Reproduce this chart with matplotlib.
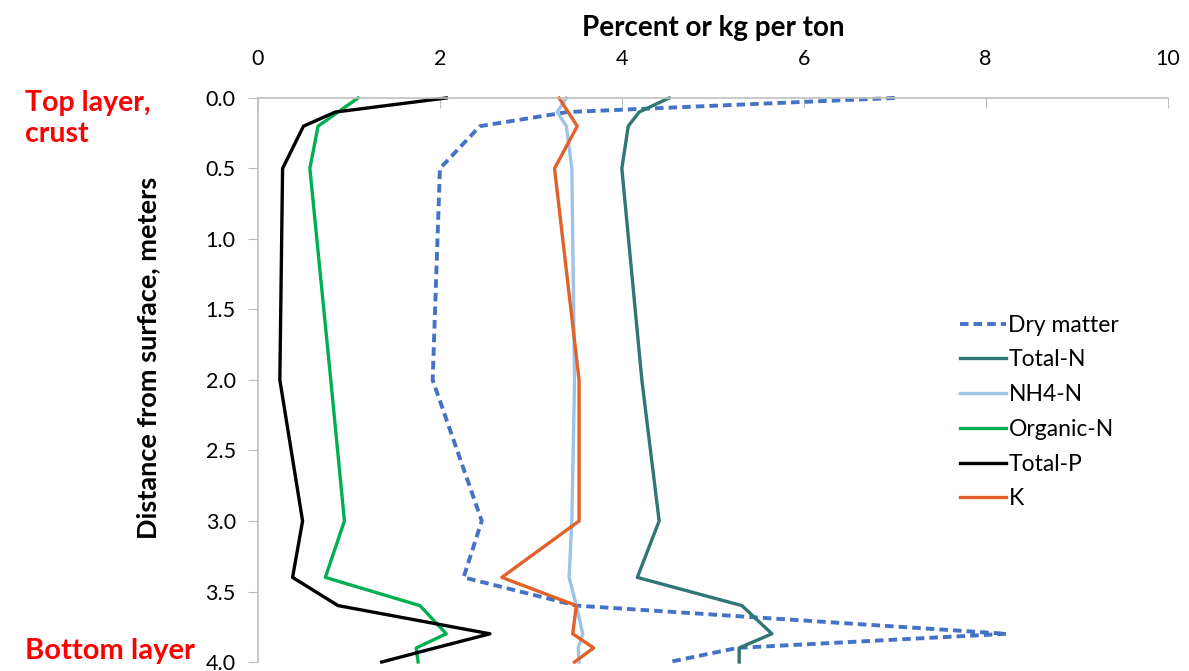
import numpy as np
import matplotlib
matplotlib.use("Agg")
import matplotlib.pyplot as plt

plt.rcParams['font.family'] = ['Lato', 'DejaVu Sans']

# depth below surface (m) and values (percent or kg per ton)
depth = [0.0, 0.1, 0.2, 0.5, 2.0, 3.0, 3.4, 3.6, 3.8, 3.9, 4.0]
dry_matter = [7.0, 3.4, 2.44, 2.0, 1.92, 2.46, 2.26, 3.5, 8.23, 5.27, 4.52]
total_n = [4.52, 4.19, 4.07, 4.0, 4.22, 4.41, 4.17, 5.32, 5.65, 5.29, 5.29]
nh4_n = [3.39, 3.29, 3.39, 3.45, 3.48, 3.45, 3.42, 3.5, 3.57, 3.52, 3.53]
organic_n = [1.1, 0.88, 0.66, 0.57, 0.8, 0.95, 0.74, 1.78, 2.07, 1.74, 1.76]
total_p = [2.07, 0.85, 0.5, 0.27, 0.24, 0.49, 0.38, 0.88, 2.55, 1.95, 1.36]
k = [3.31, 3.41, 3.51, 3.26, 3.53, 3.53, 2.68, 3.5, 3.46, 3.69, 3.48]

x_ticks = [0, 2, 4, 6, 8, 10]
y_ticks = [0.0, 0.5, 1.0, 1.5, 2.0, 2.5, 3.0, 3.5, 4.0]

fig = plt.figure(figsize=(11.89, 6.71), dpi=100)
ax = fig.add_axes([0.217, 0.0134, 0.765, 0.8406])

lw = 2.4
ax.plot(dry_matter, depth, color='#4472C4', lw=2.8, ls=(0, (2.2, 1.3)), label='Dry matter', clip_on=False)
ax.plot(total_n, depth, color='#2F7675', lw=lw, label='Total-N', clip_on=False)
ax.plot(nh4_n, depth, color='#9DC3E6', lw=lw, label='NH4-N', clip_on=False)
ax.plot(organic_n, depth, color='#00B050', lw=lw, label='Organic-N', clip_on=False)
ax.plot(total_p, depth, color='black', lw=lw, label='Total-P', clip_on=False)
ax.plot(k, depth, color='#E2602A', lw=lw, label='K', clip_on=False)

ax.set_xlim(0, 10)
ax.set_ylim(4.0, 0.0)
ax.set_xticks(x_ticks)
ax.set_yticks(y_ticks)
ax.set_yticklabels([f"{v:.1f}" for v in y_ticks])
ax.xaxis.tick_top()
ax.xaxis.set_label_position('top')

for side in ['right', 'bottom']:
    ax.spines[side].set_visible(False)
for side in ['left', 'top']:
    ax.spines[side].set_color('#BFBFBF')
    ax.spines[side].set_linewidth(1.2)

ax.tick_params(axis='x', direction='in', length=7, color='#BFBFBF', labelsize=15.5, pad=21)
ax.tick_params(axis='y', direction='out', length=7, color='#BFBFBF', labelsize=15.5, pad=9)

ax.set_xlabel('Percent or kg per ton', fontsize=20, fontweight='bold', labelpad=9)
ax.set_ylabel('Distance from surface, meters', fontsize=19.5, fontweight='bold')
ax.yaxis.set_label_coords(-0.108, 0.539)

leg = ax.legend(loc='upper left', bbox_to_anchor=(0.762, 0.632), frameon=False,
                fontsize=16.5, handlelength=2.0, handletextpad=0.1, labelspacing=0.6,
                borderaxespad=0)

fig.text(0.021, 0.823, 'Top layer,\ncrust', color='#FF0000', fontsize=20.5, fontweight='bold',
         va='center', ha='left', linespacing=1.25)
fig.text(0.021, 0.030, 'Bottom layer', color='#FF0000', fontsize=21, fontweight='bold',
         va='center', ha='left')

fig.savefig('out.png', dpi=100)
